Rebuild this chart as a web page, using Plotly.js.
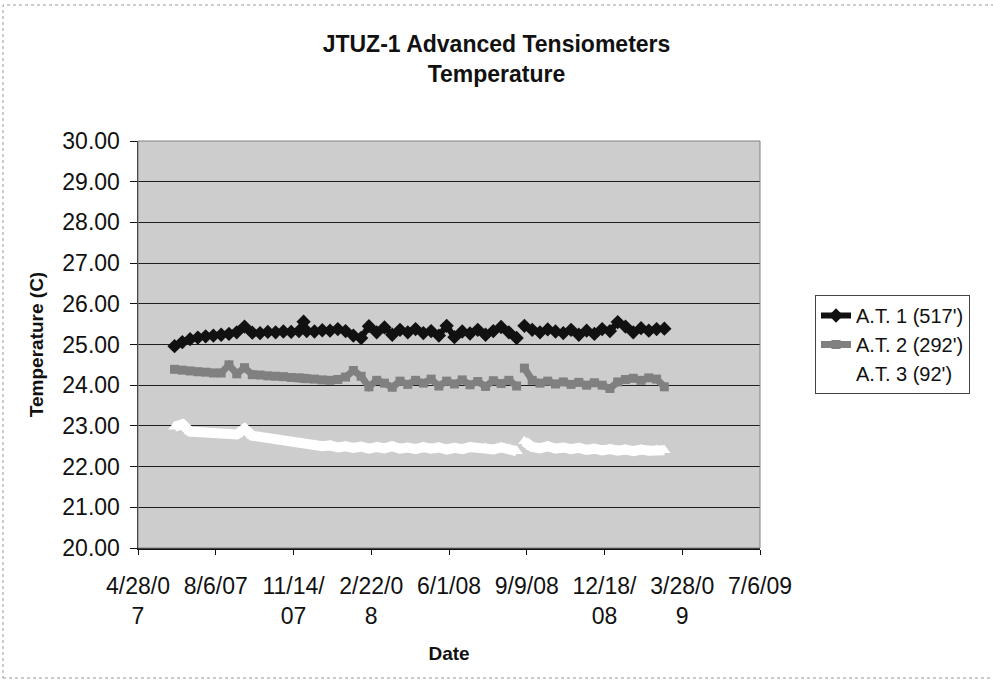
<!DOCTYPE html>
<html>
<head>
<meta charset="utf-8">
<script src="https://cdn.plot.ly/plotly-3.0.1.min.js"></script>
<style>html,body{margin:0;padding:0;background:#fff;}#chart{width:993px;height:681px;}</style>
</head>
<body>
<div id="chart"></div>
<script>
const seriesNames = ["A.T. 1 (517')", "A.T. 2 (292')", "A.T. 3 (92')"];

const dates = [
  "2007-06-14","2007-06-24","2007-07-04","2007-07-14","2007-07-24","2007-08-03","2007-08-13","2007-08-23",
  "2007-09-02","2007-09-12","2007-09-22","2007-10-02","2007-10-12","2007-10-22","2007-11-01","2007-11-11",
  "2007-11-21","2007-11-27","2007-12-01","2007-12-11","2007-12-21","2007-12-31",
  "2008-01-10","2008-01-20","2008-01-30","2008-02-09","2008-02-19","2008-02-29","2008-03-10","2008-03-20",
  "2008-03-30","2008-04-09","2008-04-19","2008-04-29","2008-05-09","2008-05-19","2008-05-29","2008-06-08",
  "2008-06-18","2008-06-28","2008-07-08","2008-07-18","2008-07-28","2008-08-07","2008-08-17","2008-08-27",
  "2008-09-02",
  "2008-09-06","2008-09-16","2008-09-26","2008-10-06","2008-10-16","2008-10-26","2008-11-05","2008-11-15",
  "2008-11-25","2008-12-05","2008-12-15","2008-12-25","2009-01-04","2009-01-14","2009-01-24","2009-02-03",
  "2009-02-13","2009-02-23","2009-03-05"
];

const at1 = [
  24.96,25.06,25.13,25.17,25.20,25.22,25.24,25.26,
  25.30,25.44,25.29,25.28,25.31,25.30,25.32,25.31,
  25.33,25.56,25.33,25.32,25.35,25.34,
  25.38,25.33,25.22,25.16,25.45,25.30,25.42,25.24,
  25.36,25.30,25.38,25.28,25.33,25.22,25.46,25.18,
  25.32,25.27,25.36,25.24,25.33,25.43,25.30,25.16,
  null,
  25.46,25.36,25.30,25.37,25.32,25.28,25.36,25.24,
  25.34,25.26,25.38,25.33,25.55,25.44,25.30,25.40,
  25.34,25.38,25.39
];

const at2 = [
  24.39,24.37,24.35,24.33,24.32,24.30,24.30,24.50,
  24.28,24.43,24.26,24.25,24.23,24.22,24.21,24.19,
  24.18,24.17,24.16,24.15,24.13,24.12,
  24.14,24.20,24.36,24.22,23.96,24.12,24.05,23.95,
  24.10,24.02,24.12,24.05,24.15,23.98,24.10,24.03,
  24.13,24.01,24.09,23.97,24.11,24.04,24.12,23.98,
  null,
  24.42,24.12,24.05,24.10,24.03,24.08,24.02,24.07,
  24.00,24.06,24.00,23.92,24.08,24.14,24.17,24.12,
  24.18,24.15,23.96
];

const at3 = [
  22.98,23.04,22.86,22.84,22.82,22.82,22.80,22.81,
  22.79,22.93,22.76,22.73,22.70,22.66,22.63,22.60,
  22.58,22.56,22.55,22.53,22.50,22.52,
  22.47,22.50,22.46,22.49,22.44,22.48,22.45,22.50,
  22.44,22.47,22.43,22.48,22.44,22.47,22.42,22.46,
  22.43,22.48,22.44,22.46,22.42,22.47,22.43,22.38,
  null,
  22.62,22.48,22.45,22.50,22.44,22.47,22.43,22.46,
  22.41,22.44,22.40,22.43,22.39,22.42,22.38,22.42,
  22.39,22.41,22.40
];

const tickDates = ["2007-04-28","2007-08-06","2007-11-14","2008-02-22","2008-06-01","2008-09-09","2008-12-18","2009-03-28","2009-07-06"];
const tickLabels = ["4/28/0<br>7","8/6/07","11/14/<br>07","2/22/0<br>8","6/1/08","9/9/08","12/18/<br>08","3/28/0<br>9","7/6/09"];

const FONT = "Liberation Sans, Arial, Helvetica, sans-serif";

const traces = [
  {x: dates, y: at1, name: seriesNames[0], type: "scatter", mode: "lines+markers",
   line: {color: "#111111", width: 6}, marker: {symbol: "diamond", size: 11, color: "#111111"}, connectgaps: false},
  {x: dates, y: at2, name: seriesNames[1], type: "scatter", mode: "lines+markers",
   line: {color: "#808080", width: 7}, marker: {symbol: "square", size: 9, color: "#808080"}, connectgaps: false},
  {x: dates, y: at3, name: seriesNames[2], type: "scatter", mode: "lines+markers",
   line: {color: "#ffffff", width: 10}, marker: {symbol: "triangle-up", size: 11, color: "#ffffff"}, connectgaps: false}
];

const layout = {
  width: 993, height: 681,
  margin: {l: 138, r: 233, t: 141, b: 133},
  paper_bgcolor: "#ffffff",
  plot_bgcolor: "#cdcdcd",
  font: {family: FONT, color: "#111111"},
  title: {
    text: "JTUZ-1 Advanced Tensiometers<br>Temperature",
    font: {family: FONT, size: 23, weight: "bold", color: "#111111"},
    x: 0.5, xref: "container", xanchor: "center",
    y: 1 - 52/681, yref: "container", yanchor: "top"
  },
  xaxis: {
    type: "date",
    range: ["2007-04-28", "2009-07-06"],
    tickmode: "array", tickvals: tickDates, ticktext: tickLabels,
    ticks: "outside", ticklen: 5, tickcolor: "#111", tickwidth: 1,
    showline: true, linecolor: "#111", linewidth: 1.5,
    showgrid: false, zeroline: false,
    tickfont: {family: FONT, size: 23, color: "#111"},
    ticklabelstandoff: 12,
    title: {text: "Date", font: {family: FONT, size: 19, weight: "bold", color: "#111"}, standoff: 18}
  },
  yaxis: {
    range: [20, 30], dtick: 1, tick0: 20, tickformat: ".2f",
    ticks: "outside", ticklen: 7, tickcolor: "#111", tickwidth: 1,
    showline: true, linecolor: "#111", linewidth: 1.5,
    showgrid: true, gridcolor: "#1e1e1e", gridwidth: 1, zeroline: false,
    tickfont: {family: FONT, size: 23, color: "#111"},
    ticklabelstandoff: 5,
    title: {text: "Temperature (C)", font: {family: FONT, size: 19, weight: "bold", color: "#111"}, standoff: 13}
  },
  legend: {
    x: (815 - 138) / 622, y: (548 - 295) / 407, xanchor: "left", yanchor: "top",
    bgcolor: "#ffffff", bordercolor: "#444", borderwidth: 1,
    font: {family: FONT, size: 20, color: "#111"},
    traceorder: "normal"
  },
  shapes: [
    {type: "rect", xref: "paper", yref: "paper", x0: 0, x1: 1, y0: 0, y1: 1,
     line: {color: "#808080", width: 1}, fillcolor: "rgba(0,0,0,0)", layer: "above"},
    {type: "rect", xref: "paper", yref: "paper",
     x0: (3 - 138) / 622, x1: (1005 - 138) / 622, y0: (548 - 678) / 407, y1: (548 - 5) / 407,
     line: {color: "#999999", width: 1, dash: "dot"}, fillcolor: "rgba(0,0,0,0)", layer: "below"}
  ],
  showlegend: true
};

Plotly.newPlot("chart", traces, layout, {displayModeBar: false, staticPlot: true});
</script>
</body>
</html>
